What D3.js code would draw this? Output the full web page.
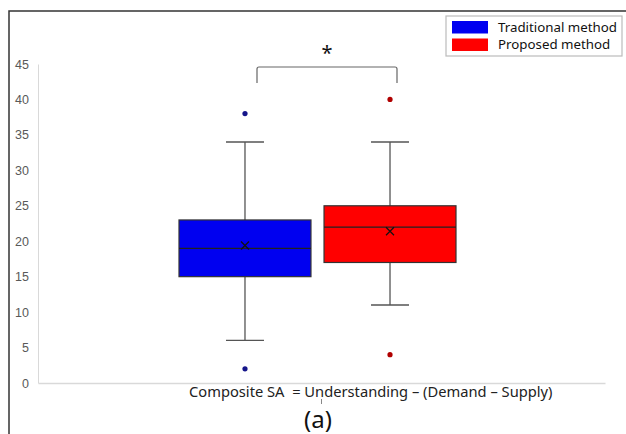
<!DOCTYPE html>
<html>
<head>
<meta charset="utf-8">
<script src="https://cdn.jsdelivr.net/npm/d3@7"></script>
<style>
  body { margin: 0; background: #fff; }
  svg { display: block; font-family: "Noto Sans", "Open Sans", sans-serif; }
</style>
</head>
<body>
<div id="chart"></div>
<script>
// Box plot data
var series = ['Traditional method', 'Proposed method'];
var seriesColors = ['#0000f0', '#ff0000'];
var outlierColors = ['#15158a', '#b00000'];
var whiskerLow = [6, 11];
var q1 = [15, 17];
var median = [19, 22];
var q3 = [23, 25];
var whiskerHigh = [34, 34];
var means = [19.4, 21.4];
var outliers = [[2, 38], [4, 40]];
var yTicks = [0, 5, 10, 15, 20, 25, 30, 35, 40, 45];
var category = 'Composite SA  = Understanding \u2013 (Demand \u2013 Supply)';

var boxes = series.map(function (s, i) {
    return {
        name: s, color: seriesColors[i], outColor: outlierColors[i],
        lo: whiskerLow[i], q1: q1[i], med: median[i], q3: q3[i], hi: whiskerHigh[i],
        mean: means[i], out: outliers[i]
    };
});

var W = 626, H = 434;
var svg = d3.select('#chart').append('svg')
    .attr('width', W)
    .attr('height', H);

// Outer frame
svg.append('rect')
    .attr('x', 9).attr('y', 11)
    .attr('width', 700).attr('height', 500)
    .attr('fill', 'none')
    .attr('stroke', '#333')
    .attr('stroke-width', 1.5);

// Scales
var y = d3.scaleLinear().domain([0, 45]).range([383, 64]);
var xCat = d3.scaleBand().domain([category]).range([38, 605]);
var x = d3.scaleBand().domain(series).range([179, 456]).paddingInner(0.09);

// Y axis
var yAxis = svg.append('g')
    .attr('transform', 'translate(38,0)')
    .call(d3.axisLeft(y).tickValues(yTicks).tickSize(0).tickPadding(9));
yAxis.select('.domain').attr('stroke', '#d9d9d9');
yAxis.selectAll('text')
    .style('font-size', '12.5px')
    .style('fill', '#595959');

// X axis
var xAxis = svg.append('g')
    .attr('transform', 'translate(0,383)')
    .call(d3.axisBottom(xCat).tickSize(0).tickFormat(''));
xAxis.select('.domain').attr('stroke', '#d9d9d9').attr('stroke-width', 1.5);

// small tick under the category label
svg.append('line')
    .attr('x1', xCat(category) + xCat.bandwidth() / 2)
    .attr('x2', xCat(category) + xCat.bandwidth() / 2)
    .attr('y1', 399).attr('y2', 404)
    .attr('stroke', '#888');

svg.append('text')
    .attr('x', 189)
    .attr('y', 397)
    .style('font-size', '14.7px')
    .style('white-space', 'pre')
    .style('fill', '#222')
    .text(category);

svg.append('text')
    .attr('x', 318)
    .attr('y', 428)
    .attr('text-anchor', 'middle')
    .style('font-size', '24px')
    .style('fill', '#111')
    .text('(a)');

// Boxes
var g = svg.selectAll('.box')
    .data(boxes)
    .enter()
    .append('g')
    .attr('class', 'box');

function cx(d) { return x(d.name) + x.bandwidth() / 2; }

// whiskers
g.append('line')
    .attr('x1', cx).attr('x2', cx)
    .attr('y1', function (d) { return y(d.hi); })
    .attr('y2', function (d) { return y(d.lo); })
    .attr('stroke', '#555').attr('stroke-width', 1.3);

['hi', 'lo'].forEach(function (k) {
    g.append('line')
        .attr('x1', function (d) { return cx(d) - 19; })
        .attr('x2', function (d) { return cx(d) + 19; })
        .attr('y1', function (d) { return y(d[k]); })
        .attr('y2', function (d) { return y(d[k]); })
        .attr('stroke', '#555').attr('stroke-width', 1.3);
});

g.append('rect')
    .attr('x', function (d) { return x(d.name); })
    .attr('y', function (d) { return y(d.q3); })
    .attr('width', x.bandwidth())
    .attr('height', function (d) { return y(d.q1) - y(d.q3); })
    .attr('fill', function (d) { return d.color; })
    .attr('stroke', '#333')
    .attr('stroke-width', 1.2);

g.append('line')
    .attr('x1', function (d) { return x(d.name); })
    .attr('x2', function (d) { return x(d.name) + x.bandwidth(); })
    .attr('y1', function (d) { return y(d.med); })
    .attr('y2', function (d) { return y(d.med); })
    .attr('stroke', '#222').attr('stroke-width', 1.3);

// mean markers (x)
g.append('path')
    .attr('d', function (d) {
        var px = cx(d), py = y(d.mean), s = 4;
        return 'M' + (px - s) + ',' + (py - s) + 'L' + (px + s) + ',' + (py + s) +
            'M' + (px - s) + ',' + (py + s) + 'L' + (px + s) + ',' + (py - s);
    })
    .attr('stroke', '#111').attr('stroke-width', 1.2);

// outliers
g.selectAll('.out')
    .data(function (d) { return d.out.map(function (v) { return { v: v, box: d }; }); })
    .enter()
    .append('circle')
    .attr('class', 'out')
    .attr('cx', function (d) { return cx(d.box); })
    .attr('cy', function (d) { return y(d.v); })
    .attr('r', 2.6)
    .attr('fill', function (d) { return d.box.outColor; });

// Significance bracket
var bx0 = 257, bx1 = 397, byTop = 67, byBot = 83;
svg.append('path')
    .attr('d', 'M' + bx0 + ',' + byBot + 'L' + bx0 + ',' + (byTop + 2) +
        'Q' + bx0 + ',' + byTop + ' ' + (bx0 + 2) + ',' + byTop +
        'L' + (bx1 - 2) + ',' + byTop +
        'Q' + bx1 + ',' + byTop + ' ' + bx1 + ',' + (byTop + 2) +
        'L' + bx1 + ',' + byBot)
    .attr('fill', 'none')
    .attr('stroke', '#666')
    .attr('stroke-width', 1.2);

svg.append('text')
    .attr('x', 327)
    .attr('y', 60)
    .attr('text-anchor', 'middle')
    .style('font-size', '20px')
    .style('fill', '#111')
    .text('*');

// Legend
var legend = svg.append('g');
legend.append('rect')
    .attr('x', 446).attr('y', 16)
    .attr('width', 176).attr('height', 40)
    .attr('fill', '#fff')
    .attr('stroke', '#bbb')
    .attr('stroke-width', 1.2);

var items = legend.selectAll('.item')
    .data(boxes)
    .enter()
    .append('g')
    .attr('class', 'item')
    .attr('transform', function (d, i) { return 'translate(452,' + (21 + i * 17.5) + ')'; });

items.append('rect')
    .attr('width', 36).attr('height', 12.5)
    .attr('fill', function (d) { return d.color; });

items.append('text')
    .attr('x', 46)
    .attr('y', 10.5)
    .style('font-size', '13.3px')
    .style('fill', '#111')
    .text(function (d) { return d.name; });
</script>
</body>
</html>
